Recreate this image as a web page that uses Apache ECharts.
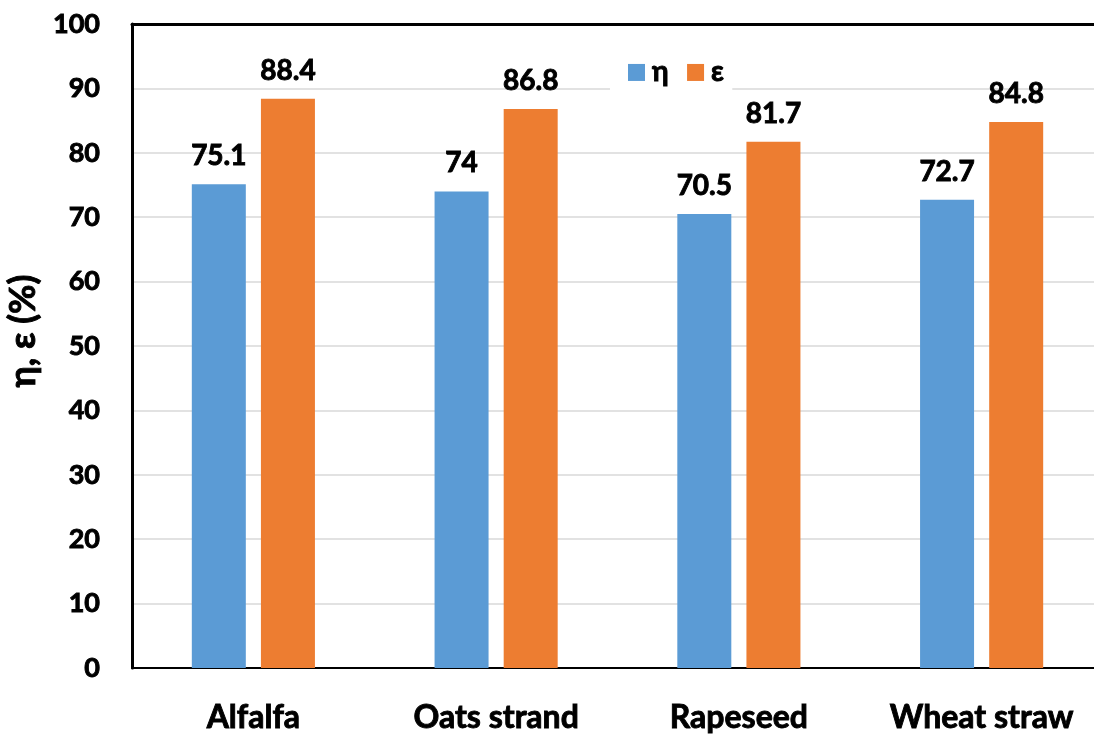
<!DOCTYPE html>
<html>
<head>
<meta charset="utf-8">
<title>η, ε by feedstock</title>
<script src="https://cdn.jsdelivr.net/npm/echarts@6/dist/echarts.min.js"></script>
<style>
  html, body { margin: 0; padding: 0; background: #ffffff; }
  #chart { width: 1094px; height: 734px; }
</style>
</head>
<body>
<div id="chart"></div>
<script>
// Feedstocks on the category axis
const categories = ['Alfalfa', 'Oats strand', 'Rapeseed', 'Wheat straw'];
// η and ε values (%) for each feedstock
const etaValues = [75.1, 74, 70.5, 72.7];
const epsValues = [88.4, 86.8, 81.7, 84.8];
// Value axis ticks
const yTicks = [0, 10, 20, 30, 40, 50, 60, 70, 80, 90, 100];

const FONT = 'Lato, "Open Sans", "Liberation Sans", sans-serif';
const BLUE = '#5B9BD5';
const ORANGE = '#ED7D31';

// heavy black text: bold face plus a thin outline of the same colour
const heavy = (size) => ({
  color: '#000',
  fontFamily: FONT,
  fontWeight: 'bold',
  fontSize: size,
  textBorderColor: '#000',
  textBorderWidth: 0.9
});

const chart = echarts.init(document.getElementById('chart'));

const labelStyle = Object.assign({ show: true, position: 'top', distance: 14 }, heavy(28));

chart.setOption({
  backgroundColor: '#ffffff',
  animation: false,
  textStyle: { fontFamily: FONT },
  // plot area runs slightly past the right edge of the canvas
  grid: { left: 132, width: 971, top: 24, bottom: 66, containLabel: false, outerBoundsMode: 'none' },
  legend: {
    data: ['η', 'ε'],
    left: 610,
    top: 50,
    backgroundColor: '#ffffff',
    padding: [8, 8, 16, 18],
    itemWidth: 17,
    itemHeight: 17,
    itemGap: 18,
    icon: 'rect',
    textStyle: Object.assign(heavy(28), { padding: [0, 0, 0, 2] })
  },
  xAxis: [
    {
      type: 'category',
      data: categories,
      position: 'bottom',
      axisLine: { show: true, lineStyle: { color: '#000', width: 2 } },
      axisTick: { show: false },
      axisLabel: Object.assign(heavy(32), { margin: 34 })
    },
    {
      // Top frame line of the plot area
      type: 'category',
      data: categories,
      position: 'top',
      axisLine: { show: true, lineStyle: { color: '#000', width: 3 } },
      axisTick: { show: false },
      axisLabel: { show: false }
    }
  ],
  yAxis: {
    type: 'value',
    min: yTicks[0],
    max: yTicks[yTicks.length - 1],
    interval: yTicks[1] - yTicks[0],
    name: 'η, ε (%)',
    nameLocation: 'middle',
    nameGap: 86,
    nameRotate: 90,
    nameTextStyle: Object.assign(heavy(36), { padding: [0, 0, 0, 30] }),
    axisLine: { show: true, lineStyle: { color: '#000', width: 3 } },
    axisTick: { show: false },
    axisLabel: Object.assign(heavy(27), { margin: 32 }),
    splitLine: { show: true, lineStyle: { color: '#d9d9d9', width: 1.5 } }
  },
  series: [
    {
      name: 'η',
      type: 'bar',
      data: etaValues,
      barWidth: 54,
      barGap: '28%',
      itemStyle: { color: BLUE },
      label: labelStyle
    },
    {
      name: 'ε',
      type: 'bar',
      data: epsValues,
      barWidth: 54,
      barGap: '28%',
      itemStyle: { color: ORANGE },
      label: labelStyle
    }
  ]
});
</script>
</body>
</html>
